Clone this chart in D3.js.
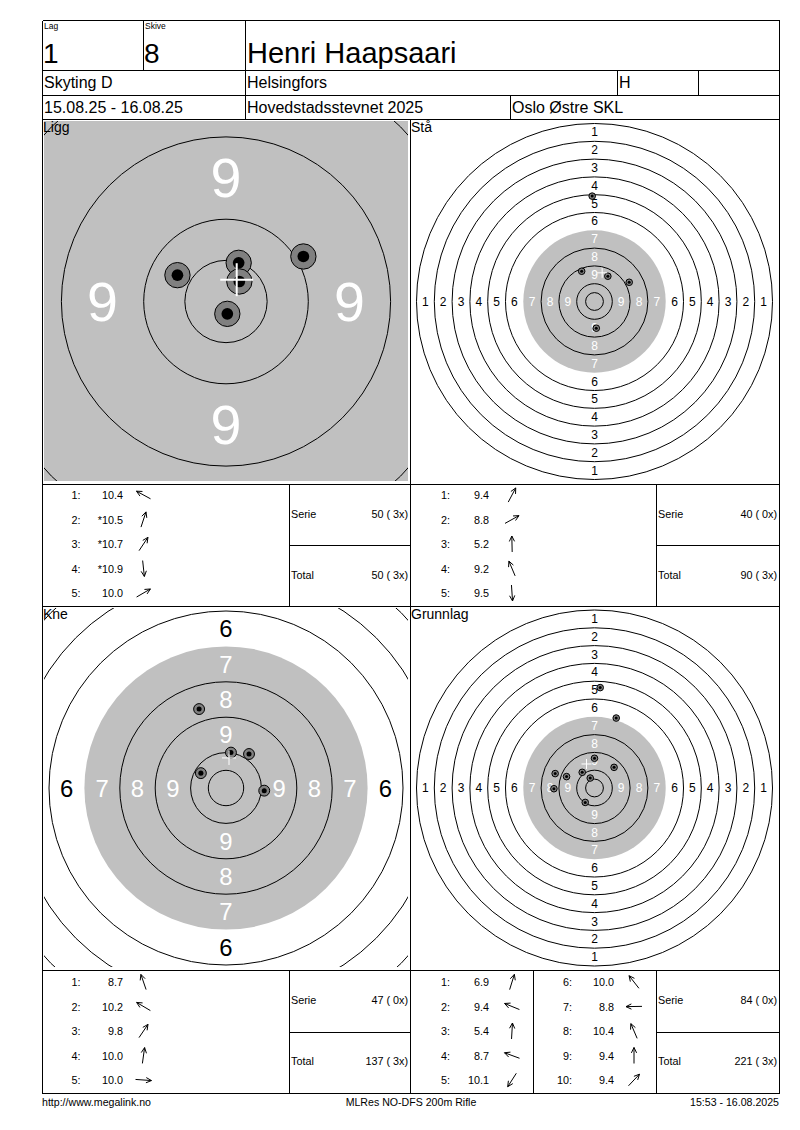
<!DOCTYPE html>
<html><head><meta charset="utf-8">
<script src="https://cdn.jsdelivr.net/npm/d3@7"></script>
<style>
body{margin:0;background:#fff}
svg{display:block}
text{font-family:"Liberation Sans",Arial,Helvetica,sans-serif}
</style>
</head><body>
<svg id="c" width="800" height="1130"></svg>
<script>
// ---------- data ----------
const lagLabel = "Lag", skiveLabel = "Skive";
const lagValue = "1", skiveValue = "8";
const shooterName = "Henri Haapsaari";
const headerRow2 = ["Skyting D", "Helsingfors", "H", ""];
const headerRow3 = ["15.08.25 - 16.08.25", "Hovedstadsstevnet 2025", "Oslo Østre SKL"];
const footerTexts = ["http://www.megalink.no", "MLRes NO-DFS 200m Rifle", "15:53 - 16.08.2025"];

const targetNames = ["Ligg", "Stå", "Kne", "Grunnlag"];
const ringScores = [1, 2, 3, 4, 5, 6, 7, 8, 9, 10];
const labelScores = [1, 2, 3, 4, 5, 6, 7, 8, 9];

// shot positions in ring widths from centre (x right, y up)
const liggX = [-0.59, 0.154, 0.162, 0.016, 0.94];
const liggY = [0.32, 0.47, 0.243, -0.15, 0.547];
const liggScores = [10.4, 10.5, 10.7, 10.9, 10.0];
const liggInner = [false, true, true, true, false];

const staX = [0.75, 1.95, -0.13, -0.72, 0.10];
const staY = [1.42, 1.08, 5.92, 1.70, -1.50];
const staScores = [9.4, 8.8, 5.2, 9.2, 9.5];
const staInner = [false, false, false, false, false];

const kneX = [-0.76, -0.71, 0.65, 0.14, 1.08];
const kneY = [2.23, 0.42, 0.96, 1.0, -0.075];
const kneScores = [8.7, 10.2, 9.8, 10.0, 10.0];
const kneInner = [false, false, false, false, false];

const grunnX = [1.22, -1.57, 0.32, -2.21, -0.52, -0.69, -2.28, -0.24, 0.0, 1.10];
const grunnY = [3.93, 0.64, 5.64, 0.81, -0.81, 0.88, -0.04, 0.56, 1.67, 1.16];
const grunnScores = [6.9, 9.4, 5.4, 8.7, 10.1, 10.0, 8.8, 10.4, 9.4, 9.4];
const grunnInner = [false, false, false, false, false, false, false, false, false, false];

// group centre marks (ring widths)
const centreX = [0.13, 0.43, 0.085, -0.45];
const centreY = [0.265, 1.61, 0.85, 1.35];

const serieValues = ["50 ( 3x)", "40 ( 0x)", "47 ( 0x)", "84 ( 0x)"];
const totalValues = ["50 ( 3x)", "90 ( 3x)", "137 ( 3x)", "221 ( 3x)"];

// ---------- layout ----------
const svg = d3.select("#c");
const L = 42, R = 779, MID = 410;
const line = (x1, y1, x2, y2) => svg.append("line")
  .attr("x1", x1 + 0.5).attr("y1", y1 + 0.5).attr("x2", x2 + 0.5).attr("y2", y2 + 0.5)
  .attr("stroke", "#000").attr("stroke-width", 1).attr("shape-rendering", "crispEdges");
const txt = (x, y, s, size, anchor) => svg.append("text")
  .attr("x", x).attr("y", y).attr("font-size", size).attr("text-anchor", anchor || "start")
  .attr("fill", "#000").text(s);

// ---------- targets ----------
const panels = [
  {x0: L, y0: 119, x1: MID, y1: 484, s: 82.3},
  {x0: MID, y0: 119, x1: R, y1: 484, s: 17.8},
  {x0: L, y0: 606, x1: MID, y1: 970, s: 35.4},
  {x0: MID, y0: 606, x1: R, y1: 970, s: 17.8}
];
const shotSets = [
  {x: liggX, y: liggY, sc: liggScores, inn: liggInner},
  {x: staX, y: staY, sc: staScores, inn: staInner},
  {x: kneX, y: kneY, sc: kneScores, inn: kneInner},
  {x: grunnX, y: grunnY, sc: grunnScores, inn: grunnInner}
];

const defs = svg.append("defs");
panels.forEach((p, i) => {
  const cx = (p.x0 + p.x1) / 2, cy = (p.y0 + p.y1) / 2, s = p.s;
  const xs = d3.scaleLinear().domain([-10, 10]).range([cx - 10 * s, cx + 10 * s]);
  const ys = d3.scaleLinear().domain([-10, 10]).range([cy + 10 * s, cy - 10 * s]);
  const rs = d3.scaleLinear().domain([0, 10]).range([0, 10 * s]);
  const ringR = d3.scaleLinear().domain([10, 1]).range([1, 10]); // score -> outer radius (ring widths)

  const clip = {x: p.x0 + 2, y: p.y0 + 2, w: p.x1 - p.x0 - 4, h: p.y1 - p.y0 - 5};
  defs.append("clipPath").attr("id", "clip" + i).append("rect")
    .attr("x", clip.x).attr("y", clip.y).attr("width", clip.w).attr("height", clip.h);
  const g = svg.append("g").attr("clip-path", `url(#clip${i})`);

  // black (grey) aiming area = rings 7..10
  g.append("circle").attr("cx", xs(0)).attr("cy", ys(0)).attr("r", rs(ringR(7)))
    .attr("fill", "#c0c0c0");
  // ring lines
  const lineRadii = ringScores.filter(k => k !== 7).map(k => ringR(k)).concat([0.5]);
  g.selectAll("circle.ring").data(lineRadii).join("circle").attr("class", "ring")
    .attr("cx", xs(0)).attr("cy", ys(0)).attr("r", d => rs(d))
    .attr("fill", "none").attr("stroke", "#000").attr("stroke-width", 1);
  // ring numbers (only those that fall inside the panel)
  const fs = 0.675 * s;
  const lab = [];
  labelScores.forEach(k => {
    const rr = ringR(k) - 0.5;
    [[0, rr], [0, -rr], [rr, 0], [-rr, 0]].forEach(([dx, dy]) => {
      const px = xs(dx), py = ys(dy);
      if (px - fs * 0.3 >= clip.x && px + fs * 0.3 <= clip.x + clip.w &&
          py - fs * 0.42 >= clip.y && py + fs * 0.42 <= clip.y + clip.h)
        lab.push({k, dx, dy});
    });
  });
  g.selectAll("text.num").data(lab).join("text").attr("class", "num")
    .attr("x", d => xs(d.dx)).attr("y", d => ys(d.dy))
    .attr("text-anchor", "middle").attr("dominant-baseline", "central")
    .attr("font-size", fs)
    .attr("fill", d => d.k >= 7 ? "#ffffff" : "#000")
    .text(d => d.k);

  // shots
  const set = shotSets[i];
  const shots = set.x.map((x, j) => ({x, y: set.y[j]}));
  const ro = Math.max(3.3, 0.154 * s), ri = Math.max(1.5, 0.071 * s);
  const sg = g.selectAll("g.shot").data(shots).join("g").attr("class", "shot");
  sg.append("circle").attr("cx", d => xs(d.x)).attr("cy", d => ys(d.y)).attr("r", ro)
    .attr("fill", "#808080").attr("stroke", "#000").attr("stroke-width", 1);
  sg.append("circle").attr("cx", d => xs(d.x)).attr("cy", d => ys(d.y)).attr("r", ri)
    .attr("fill", "#000");

  // group centre cross
  const arm = Math.max(5, 0.2 * s), sw = s > 50 ? 2 : 1;
  const mx = xs(centreX[i]), my = ys(centreY[i]);
  g.append("line").attr("x1", mx - arm).attr("x2", mx + arm).attr("y1", my).attr("y2", my)
    .attr("stroke", "#fff").attr("stroke-width", sw);
  g.append("line").attr("x1", mx).attr("x2", mx).attr("y1", my - arm).attr("y2", my + arm)
    .attr("stroke", "#fff").attr("stroke-width", sw);

  // title
  txt(p.x0 + 1, p.y0 + 13, targetNames[i], 14);
});

// ---------- tables ----------
function arrow(cx, cy, x, y) {
  const a = Math.atan2(y, x);
  const ux = Math.cos(a), uy = -Math.sin(a), h = 8;
  const hx = cx + ux * h, hy = cy + uy * h, tx = cx - ux * h, ty = cy - uy * h;
  const hl = 6, sp = 0.45;
  const b1x = hx - hl * Math.cos(a - sp), b1y = hy + hl * Math.sin(a - sp);
  const b2x = hx - hl * Math.cos(a + sp), b2y = hy + hl * Math.sin(a + sp);
  svg.append("path")
    .attr("d", `M${tx},${ty}L${hx},${hy}M${b1x},${b1y}L${hx},${hy}L${b2x},${b2y}`)
    .attr("fill", "none").attr("stroke", "#000").attr("stroke-width", 1);
}
const tables = [
  {x0: L, y0: 484, y1: 606, x1: MID, div: 289},
  {x0: MID, y0: 484, y1: 606, x1: R, div: 656},
  {x0: L, y0: 970, y1: 1093, x1: MID, div: 289},
  {x0: MID, y0: 970, y1: 1093, x1: R, div: 656}
];
const FS = 10.8;
tables.forEach((t, i) => {
  const set = shotSets[i];
  const n = set.sc.length;
  const left = t.x0 === L;
  set.sc.forEach((v, j) => {
    const col = Math.floor(j / 5), row = j % 5;
    const yy = t.y1 - 13 - (4 - row) * 24.5;
    const off = col * 122;
    const lx = (left ? t.x0 + 38.5 : t.x0 + 40) + off;
    const vx = (left ? t.x0 + 81 : t.x0 + 79) + off + (col ? 3 : 0);
    const ax = (left ? t.x0 + 101.5 : t.x0 + 102) + off;
    txt(lx, yy + 4, (j + 1) + ":", FS, "end");
    txt(vx, yy + 4, (set.inn[j] ? "*" : "") + v.toFixed(1), FS, "end");
    arrow(ax, yy, set.x[j], set.y[j]);
  });
  const ym = (t.y0 + t.y1) / 2;
  txt(t.div + 2, (t.y0 + ym) / 2 + 3, "Serie", FS);
  txt(t.x1 - 2, (t.y0 + ym) / 2 + 3, serieValues[i], FS, "end");
  txt(t.div + 2, (ym + t.y1) / 2 + 3, "Total", FS);
  txt(t.x1 - 2, (ym + t.y1) / 2 + 3, totalValues[i], FS, "end");
  line(t.div, t.y0, t.div, t.y1);
  line(t.div, Math.round(ym), t.x1, Math.round(ym));
  if (n > 5) line(533, t.y0, 533, t.y1);
});

// ---------- header ----------
txt(44, 29, lagLabel, 8.5);
txt(145, 29, skiveLabel, 8.5);
txt(43, 63, lagValue, 28);
txt(144, 63, skiveValue, 28);
txt(247, 63, shooterName, 29);
const r2x = [44, 247, 619, 700];
headerRow2.forEach((s, i) => txt(r2x[i], 88, s, 16));
const r3x = [44, 247, 512];
headerRow3.forEach((s, i) => txt(r3x[i], 113, s, 16));

// grid lines
[20, 70, 95, 119, 484, 606, 970, 1093].forEach(y => line(L, y, R, y));
line(L, 20, L, 1093); line(R, 20, R, 1093);
line(143, 20, 143, 70); line(245, 20, 245, 119);
line(617, 70, 617, 95); line(698, 70, 698, 95);
line(510, 95, 510, 119);
line(MID, 119, MID, 1093);

// ---------- footer ----------
txt(42, 1106, footerTexts[0], 10.6);
txt(411, 1106, footerTexts[1], 10.6, "middle");
txt(779, 1106, footerTexts[2], 10.6, "end");
</script>
</body></html>
